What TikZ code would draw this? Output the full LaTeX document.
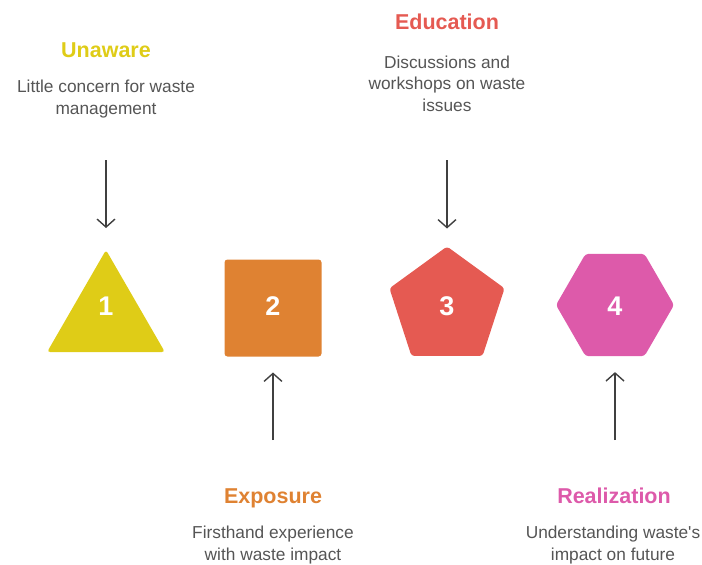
\documentclass[tikz,border=0pt]{standalone}
\usepackage{fontspec}
\setmainfont{Liberation Sans}
\usetikzlibrary{shapes.geometric,arrows.meta}

\definecolor{cunaware}{HTML}{DFCC17}
\definecolor{cexpose}{HTML}{DF8232}
\definecolor{ceducate}{HTML}{E55A52}
\definecolor{crealize}{HTML}{DD5AAA}
\definecolor{ctext}{HTML}{555555}
\definecolor{carrow}{HTML}{404040}

\tikzset{
  shp/.style={inner sep=0pt,outer sep=0pt,rounded corners=3pt},
  num/.style={text=white,font=\bfseries\fontsize{27}{27}\selectfont},
  head/.style={anchor=base,font=\bfseries\fontsize{21.5}{22}\selectfont},
  desc/.style={anchor=base,text=ctext,align=center,font=\fontsize{17.3}{21.5}\selectfont},
  arr/.style={draw=carrow,line width=1.4pt,-{Straight Barb[length=8pt,width=18pt]}}
}

\begin{document}
\begin{tikzpicture}[x=1pt,y=-1pt]
  \useasboundingbox (0,0) rectangle (702,565);

  % the four stages
  \node[shp,regular polygon,regular polygon sides=3,minimum size=136pt,fill=cunaware] (s1) at (106,318) {};
  \node[shp,rectangle,minimum size=97pt,fill=cexpose] (s2) at (273,308) {};
  \node[shp,regular polygon,regular polygon sides=5,minimum size=121pt,fill=ceducate] (s3) at (447,307) {};
  \node[shp,regular polygon,regular polygon sides=6,minimum size=118pt,fill=crealize] (s4) at (615,305) {};

  \node[num] (n1) at (106,306) {1};
  \node[num] (n2) at (273,306) {2};
  \node[num] (n3) at (447,306) {3};
  \node[num] (n4) at (615,306) {4};

  % titles and notes (base = last line)
  \node[head,text=cunaware] (h1) at (106,57) {Unaware};
  \node[desc] (d1) at (106,114) {Little concern for waste\\management};

  \node[head,text=ceducate] (h3) at (447,29) {Education};
  \node[desc] (d3) at (447,111) {Discussions and\\workshops on waste\\issues};

  \node[head,text=cexpose] (h2) at (273,503) {Exposure};
  \node[desc] (d2) at (273,560) {Firsthand experience\\with waste impact};

  \node[head,text=crealize] (h4) at (614,503) {Realization};
  \node[desc] (d4) at (613,560) {Understanding waste\textquotesingle s\\impact on future};

  % arrows
  \coordinate (a1) at (106,160);
  \coordinate (a2) at (273,440);
  \coordinate (a3) at (447,160);
  \coordinate (a4) at (615,440);
  \draw[arr] (a1) -- ([yshift=22pt]s1.north);
  \draw[arr] (a2) -- ([yshift=-16pt]s2.south);
  \draw[arr] (a3) -- ([yshift=18pt]s3.north);
  \draw[arr] (a4) -- ([yshift=-16pt]s4.south);
\end{tikzpicture}
\end{document}
